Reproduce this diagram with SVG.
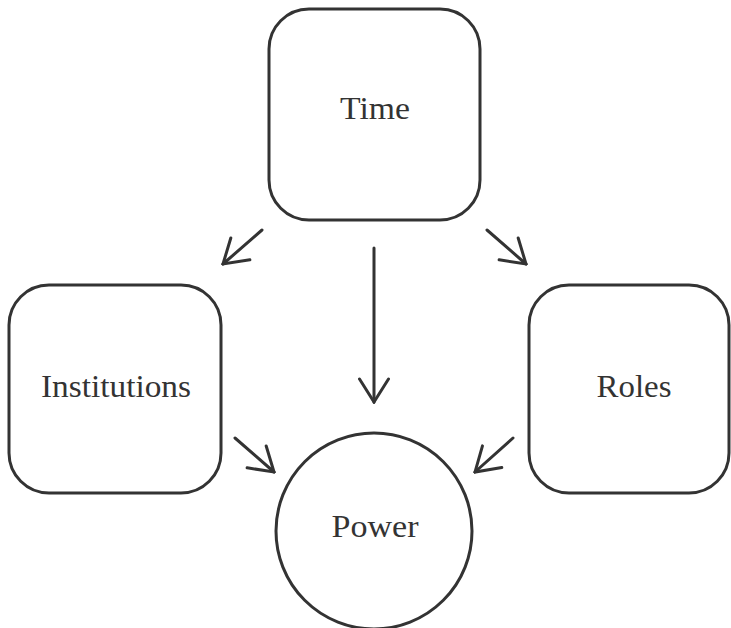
<svg xmlns="http://www.w3.org/2000/svg" width="731" height="628" viewBox="0 0 731 628">
<style>
.box{fill:#fff;stroke:#333;stroke-width:3}
.lbl{font-family:'Liberation Serif','Times New Roman','Tinos','DejaVu Serif','Noto Serif',serif;font-size:31px;fill:#333;text-anchor:middle}
.conn{stroke:#333;stroke-width:3;fill:none;stroke-linecap:round}
</style>
<defs>
<marker id="arr" markerUnits="userSpaceOnUse" viewBox="-28 -18 30 36" markerWidth="30" markerHeight="36" refX="0" refY="0" orient="auto">
<path d="M-23,-14.5 L0,0 L-23,14.5" fill="none" stroke="#333" stroke-width="3" stroke-linecap="round" stroke-linejoin="miter"/>
</marker>
</defs>
<rect width="731" height="628" fill="#fff"/>
<g id="connectors">
<line class="conn" x1="262" y1="230" x2="223" y2="264" marker-end="url(#arr)"/>
<line class="conn" x1="374" y1="248" x2="374" y2="402" marker-end="url(#arr)"/>
<line class="conn" x1="487" y1="230" x2="526" y2="264" marker-end="url(#arr)"/>
<line class="conn" x1="235" y1="438" x2="274" y2="472" marker-end="url(#arr)"/>
<line class="conn" x1="513" y1="438" x2="475" y2="472" marker-end="url(#arr)"/>
</g>
<g id="time">
<rect class="box" x="269" y="9" width="211" height="211" rx="40"/>
<text class="lbl" x="375" y="119" textLength="70" lengthAdjust="spacingAndGlyphs">Time</text>
</g>
<g id="institutions">
<rect class="box" x="9" y="285" width="212" height="208" rx="40"/>
<text class="lbl" x="116" y="397" textLength="150" lengthAdjust="spacingAndGlyphs">Institutions</text>
</g>
<g id="roles">
<rect class="box" x="529" y="285" width="200" height="208" rx="40"/>
<text class="lbl" x="634" y="397" textLength="75" lengthAdjust="spacingAndGlyphs">Roles</text>
</g>
<g id="power">
<circle class="box" cx="374" cy="531" r="98"/>
<text class="lbl" x="375" y="537" textLength="87" lengthAdjust="spacingAndGlyphs">Power</text>
</g>
</svg>
